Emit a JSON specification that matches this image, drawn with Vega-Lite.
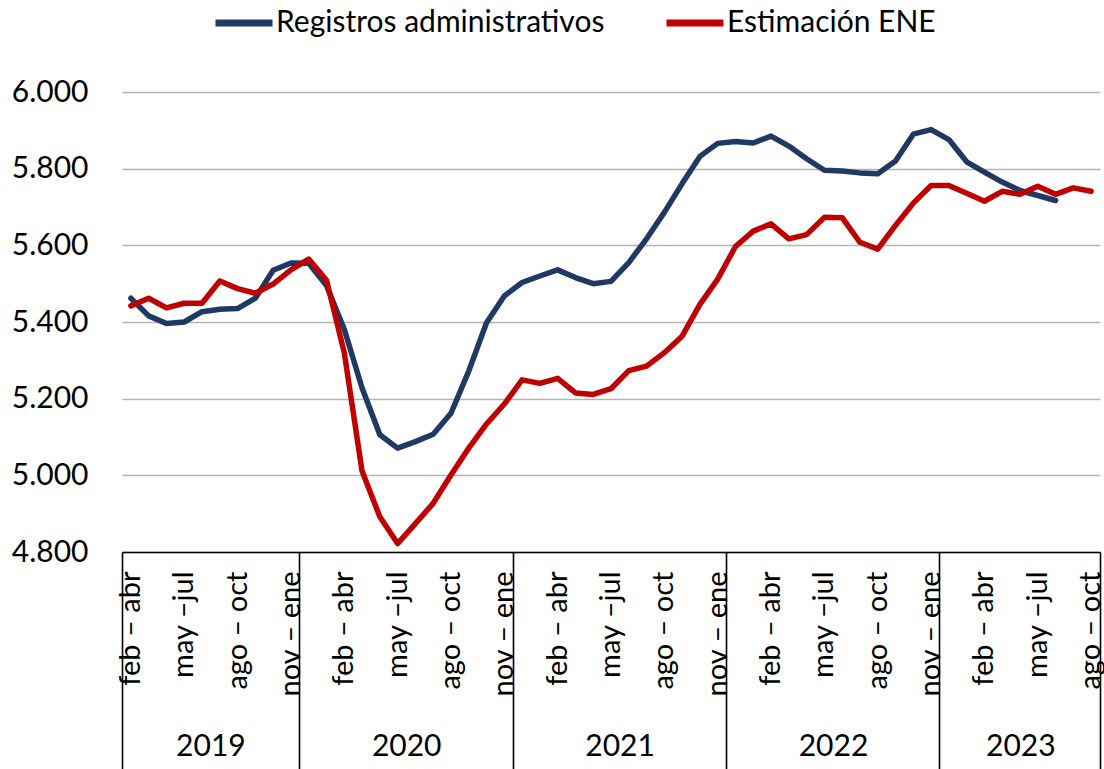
{
  "$schema": "https://vega.github.io/schema/vega-lite/v6.json",
  "width": 978,
  "height": 460,
  "autosize": {"type": "none"},
  "padding": {"left": 122, "top": 92, "right": 4, "bottom": 217},
  "background": "white",
  "config": {
    "view": {"stroke": null},
    "font": "Lato, sans-serif"
  },
  "data": {
    "values": [
      {"p": "2019|01|feb – abr", "Registros administrativos": 5462, "Estimación ENE": 5442},
      {"p": "2019|02|mar – may", "Registros administrativos": 5416, "Estimación ENE": 5462},
      {"p": "2019|03|abr – jun", "Registros administrativos": 5396, "Estimación ENE": 5437},
      {"p": "2019|04|may –jul", "Registros administrativos": 5400, "Estimación ENE": 5449},
      {"p": "2019|05|jun – ago", "Registros administrativos": 5427, "Estimación ENE": 5449},
      {"p": "2019|06|jul – sep", "Registros administrativos": 5433, "Estimación ENE": 5507},
      {"p": "2019|07|ago – oct", "Registros administrativos": 5435, "Estimación ENE": 5487},
      {"p": "2019|08|sep – nov", "Registros administrativos": 5462, "Estimación ENE": 5475},
      {"p": "2019|09|oct – dic", "Registros administrativos": 5535, "Estimación ENE": 5499},
      {"p": "2019|10|nov – ene", "Registros administrativos": 5554, "Estimación ENE": 5536},
      {"p": "2020|01|dic – feb", "Registros administrativos": 5553, "Estimación ENE": 5564},
      {"p": "2020|02|ene – mar", "Registros administrativos": 5495, "Estimación ENE": 5509},
      {"p": "2020|03|feb – abr", "Registros administrativos": 5381, "Estimación ENE": 5320},
      {"p": "2020|04|mar – may", "Registros administrativos": 5228, "Estimación ENE": 5011},
      {"p": "2020|05|abr – jun", "Registros administrativos": 5106, "Estimación ENE": 4892},
      {"p": "2020|06|may –jul", "Registros administrativos": 5071, "Estimación ENE": 4822},
      {"p": "2020|07|jun – ago", "Registros administrativos": 5088, "Estimación ENE": 4874},
      {"p": "2020|08|jul – sep", "Registros administrativos": 5107, "Estimación ENE": 4927},
      {"p": "2020|09|ago – oct", "Registros administrativos": 5162, "Estimación ENE": 5001},
      {"p": "2020|10|sep – nov", "Registros administrativos": 5272, "Estimación ENE": 5071},
      {"p": "2020|11|oct – dic", "Registros administrativos": 5398, "Estimación ENE": 5134},
      {"p": "2020|12|nov – ene", "Registros administrativos": 5468, "Estimación ENE": 5186},
      {"p": "2021|01|dic – feb", "Registros administrativos": 5503, "Estimación ENE": 5249},
      {"p": "2021|02|ene – mar", "Registros administrativos": 5520, "Estimación ENE": 5240},
      {"p": "2021|03|feb – abr", "Registros administrativos": 5536, "Estimación ENE": 5253},
      {"p": "2021|04|mar – may", "Registros administrativos": 5516, "Estimación ENE": 5215},
      {"p": "2021|05|abr – jun", "Registros administrativos": 5500, "Estimación ENE": 5211},
      {"p": "2021|06|may –jul", "Registros administrativos": 5506, "Estimación ENE": 5226},
      {"p": "2021|07|jun – ago", "Registros administrativos": 5555, "Estimación ENE": 5273},
      {"p": "2021|08|jul – sep", "Registros administrativos": 5617, "Estimación ENE": 5285},
      {"p": "2021|09|ago – oct", "Registros administrativos": 5686, "Estimación ENE": 5320},
      {"p": "2021|10|sep – nov", "Registros administrativos": 5761, "Estimación ENE": 5363},
      {"p": "2021|11|oct – dic", "Registros administrativos": 5832, "Estimación ENE": 5446},
      {"p": "2021|12|nov – ene", "Registros administrativos": 5866, "Estimación ENE": 5512},
      {"p": "2022|01|dic – feb", "Registros administrativos": 5871, "Estimación ENE": 5597},
      {"p": "2022|02|ene – mar", "Registros administrativos": 5867, "Estimación ENE": 5637},
      {"p": "2022|03|feb – abr", "Registros administrativos": 5885, "Estimación ENE": 5656},
      {"p": "2022|04|mar – may", "Registros administrativos": 5859, "Estimación ENE": 5617},
      {"p": "2022|05|abr – jun", "Registros administrativos": 5826, "Estimación ENE": 5628},
      {"p": "2022|06|may –jul", "Registros administrativos": 5796, "Estimación ENE": 5673},
      {"p": "2022|07|jun – ago", "Registros administrativos": 5794, "Estimación ENE": 5672},
      {"p": "2022|08|jul – sep", "Registros administrativos": 5789, "Estimación ENE": 5608},
      {"p": "2022|09|ago – oct", "Registros administrativos": 5787, "Estimación ENE": 5590},
      {"p": "2022|10|sep – nov", "Registros administrativos": 5820, "Estimación ENE": 5652},
      {"p": "2022|11|oct – dic", "Registros administrativos": 5890, "Estimación ENE": 5710},
      {"p": "2022|12|nov – ene", "Registros administrativos": 5902, "Estimación ENE": 5756},
      {"p": "2023|01|dic – feb", "Registros administrativos": 5876, "Estimación ENE": 5756},
      {"p": "2023|02|ene – mar", "Registros administrativos": 5818, "Estimación ENE": 5736},
      {"p": "2023|03|feb – abr", "Registros administrativos": 5791, "Estimación ENE": 5715},
      {"p": "2023|04|mar – may", "Registros administrativos": 5765, "Estimación ENE": 5741},
      {"p": "2023|05|abr – jun", "Registros administrativos": 5743, "Estimación ENE": 5733},
      {"p": "2023|06|may –jul", "Registros administrativos": 5730, "Estimación ENE": 5754},
      {"p": "2023|07|jun – ago", "Registros administrativos": 5717, "Estimación ENE": 5733},
      {"p": "2023|08|jul – sep", "Registros administrativos": null, "Estimación ENE": 5750},
      {"p": "2023|09|ago – oct", "Registros administrativos": null, "Estimación ENE": 5741}
    ]
  },
  "transform": [
    {"fold": ["Registros administrativos", "Estimación ENE"], "as": ["serie", "valor"]}
  ],
  "encoding": {
    "y": {
      "field": "valor",
      "type": "quantitative",
      "scale": {"domain": [4800, 6000], "nice": false, "zero": false},
      "axis": {
        "title": null,
        "values": [4800, 5000, 5200, 5400, 5600, 5800, 6000],
        "labelExpr": "replace(format(datum.value, ',.0f'), ',', '.')",
        "domain": false,
        "ticks": false,
        "grid": true,
        "gridColor": "#b4b4b4",
        "gridWidth": 1.6,
        "labelFont": "Lato, sans-serif",
        "labelFontSize": 30,
        "labelColor": "#000000",
        "labelPadding": 34
      }
    },
    "color": {
      "field": "serie",
      "type": "nominal",
      "scale": {"domain": ["Registros administrativos", "Estimación ENE"], "range": ["#1f3864", "#c00000"]},
      "legend": {
        "orient": "none",
        "legendX": 90,
        "legendY": -101,
        "direction": "horizontal",
        "title": null,
        "padding": 0,
        "symbolType": "stroke",
        "symbolSize": 3249,
        "symbolStrokeWidth": 7,
        "labelFont": "Lato, sans-serif",
        "labelFontSize": 30,
        "labelColor": "#000000",
        "labelOffset": 0,
        "labelLimit": 0,
        "columnPadding": 47
      }
    }
  },
  "layer": [
    {
      "transform": [{"filter": "datum.serie === 'Registros administrativos'"}],
      "mark": {"type": "line", "strokeWidth": 5.5, "strokeJoin": "round", "strokeCap": "round"},
      "encoding": {
        "x": {
          "field": "p",
          "type": "ordinal",
          "bandPosition": 0.5,
          "scale": {"type": "band", "paddingInner": 0, "paddingOuter": 0},
          "axis": {
            "orient": "bottom",
            "title": null,
            "values": ["2019|01|feb – abr", "2019|04|may –jul", "2019|07|ago – oct", "2019|10|nov – ene",
                       "2020|03|feb – abr", "2020|06|may –jul", "2020|09|ago – oct", "2020|12|nov – ene",
                       "2021|03|feb – abr", "2021|06|may –jul", "2021|09|ago – oct", "2021|12|nov – ene",
                       "2022|03|feb – abr", "2022|06|may –jul", "2022|09|ago – oct", "2022|12|nov – ene",
                       "2023|03|feb – abr", "2023|06|may –jul", "2023|09|ago – oct"],
            "labelExpr": "split(datum.value, '|')[2]",
            "labelAngle": 270,
            "labelFont": "Lato, sans-serif",
            "labelFontSize": 29,
            "labelColor": "#000000",
            "labelPadding": -198,
            "labelOverlap": false,
            "labelFlush": false,
            "bandPosition": 1,
            "ticks": true,
            "tickSize": 217,
            "tickColor": "#000000",
            "tickWidth": 1.6,
            "tickOpacity": {"condition": {"test": "datum.value === '2023|09|ago – oct'", "value": 1}, "value": 0},
            "domain": true,
            "domainColor": "#000000",
            "domainWidth": 1.6,
            "grid": false
          }
        }
      }
    },
    {
      "transform": [{"filter": "datum.serie === 'Estimación ENE'"}],
      "mark": {"type": "line", "strokeWidth": 5.5, "strokeJoin": "round", "strokeCap": "round"},
      "encoding": {
        "x": {
          "field": "p",
          "type": "ordinal",
          "bandPosition": 0.5,
          "axis": {
            "orient": "bottom",
            "title": null,
            "values": ["2019|01|feb – abr", "2020|01|dic – feb", "2021|01|dic – feb", "2022|01|dic – feb", "2023|01|dic – feb"],
            "labelExpr": "split(datum.value, '|')[0]",
            "labelAngle": 0,
            "labelAlign": "center",
            "labelBaseline": "top",
            "labelFont": "Lato, sans-serif",
            "labelFontSize": 30,
            "labelColor": "#000000",
            "labelPadding": -38,
            "labelOverlap": false,
            "labelFlush": false,
            "labelOffset": {"condition": [
              {"test": "datum.value === '2019|01|feb – abr'", "value": 80},
              {"test": "datum.value === '2023|01|dic – feb'", "value": 72}
            ], "value": 98},
            "bandPosition": 0,
            "ticks": true,
            "tickSize": 217,
            "tickColor": "#000000",
            "tickWidth": 1.6,
            "domain": false,
            "grid": false
          }
        }
      }
    }
  ],
  "resolve": {"axis": {"x": "independent"}}
}
